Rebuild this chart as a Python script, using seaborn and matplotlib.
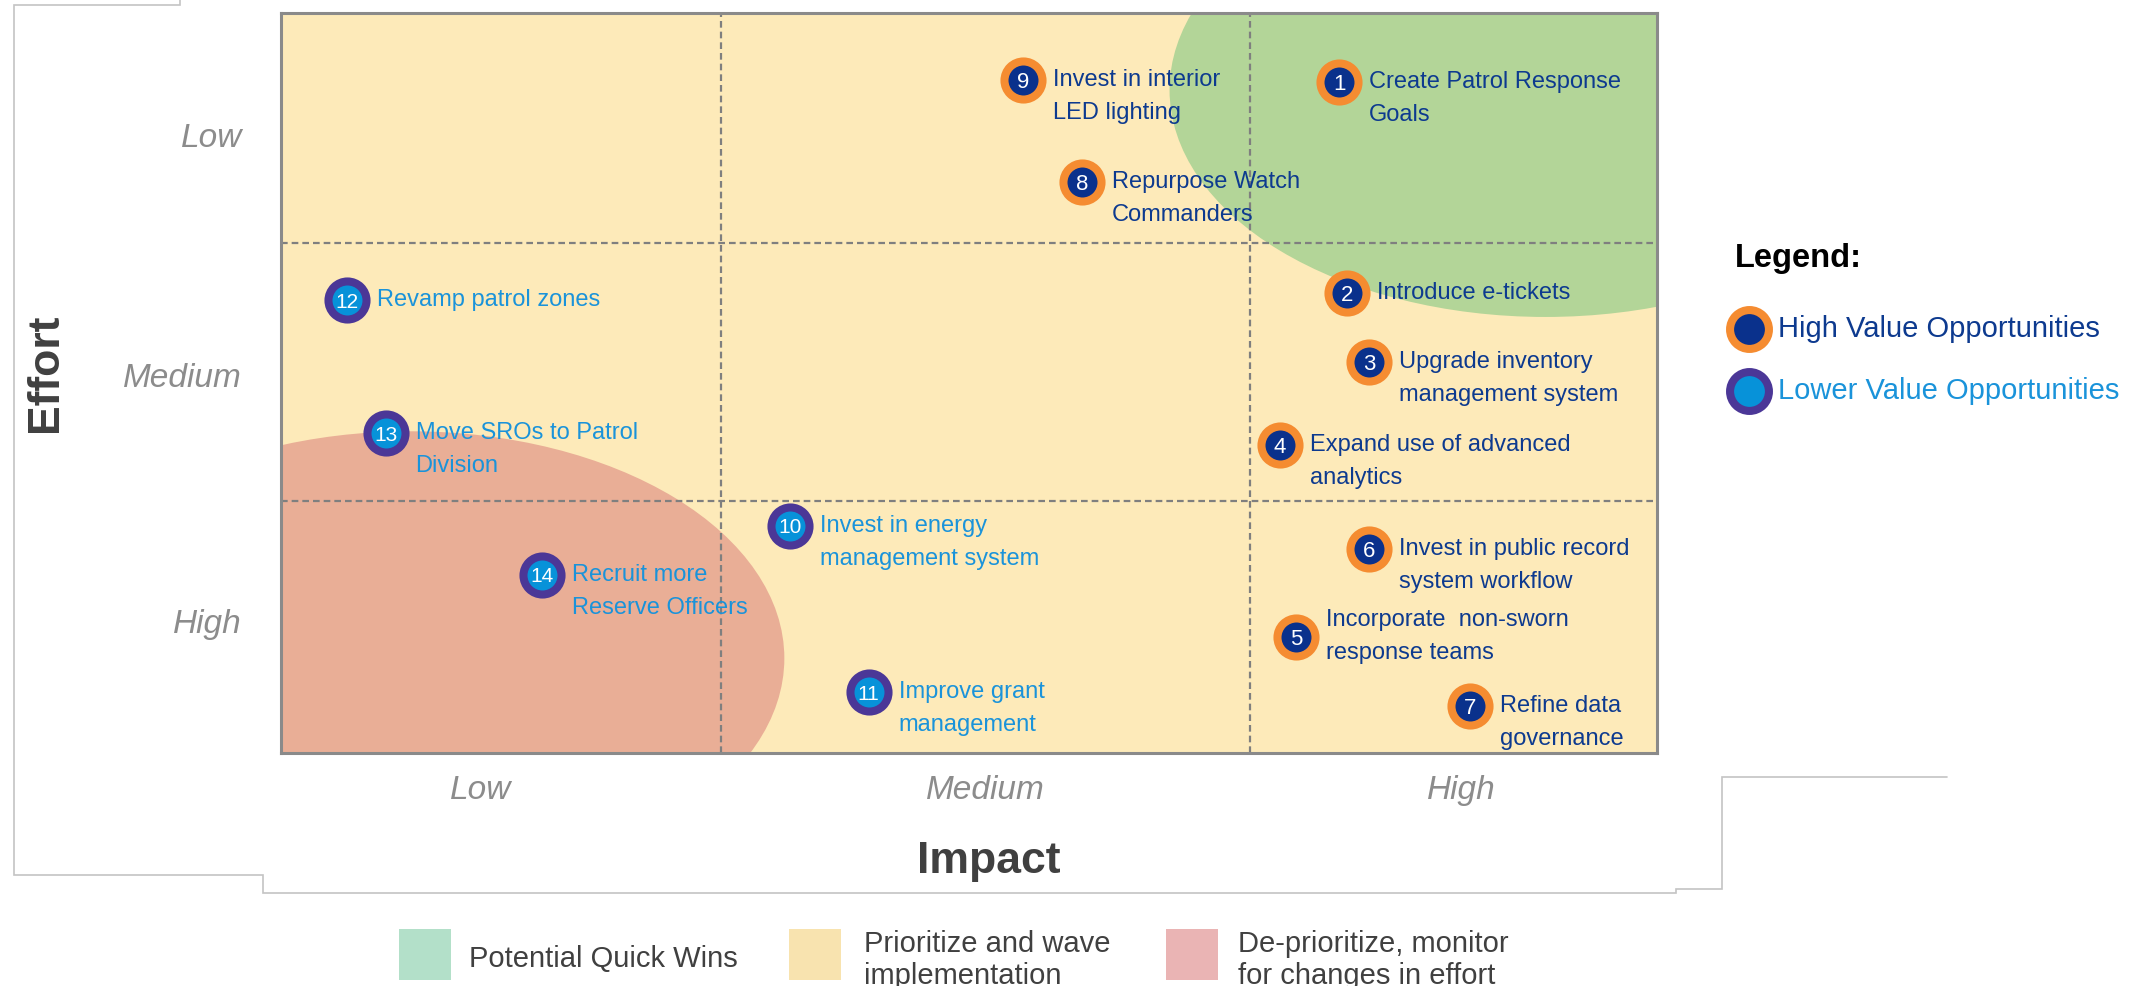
import matplotlib
matplotlib.use("Agg")
import matplotlib.pyplot as plt
from matplotlib.patches import Ellipse, Rectangle
import seaborn as sns
import pandas as pd

# ---------------- data ----------------
ids = [1, 2, 3, 4, 5, 6, 7, 8, 9, 10, 11, 12, 13, 14]
labels = [
    "Create Patrol Response\nGoals",
    "Introduce e-tickets",
    "Upgrade inventory\nmanagement system",
    "Expand use of advanced\nanalytics",
    "Incorporate  non-sworn\nresponse teams",
    "Invest in public record\nsystem workflow",
    "Refine data\ngovernance",
    "Repurpose Watch\nCommanders",
    "Invest in interior\nLED lighting",
    "Invest in energy\nmanagement system",
    "Improve grant\nmanagement",
    "Revamp patrol zones",
    "Move SROs to Patrol\nDivision",
    "Recruit more\nReserve Officers",
]
impact = [7.69, 7.75, 7.91, 7.26, 7.38, 7.91, 8.64, 5.82, 5.39, 3.70, 4.27, 0.48, 0.76, 1.90]
effort = [0.93, 3.79, 4.72, 5.84, 8.43, 7.24, 9.36, 2.28, 0.90, 6.93, 9.18, 3.88, 5.68, 7.59]
value_group = ["High"] * 9 + ["Lower"] * 5

impact_ticks = [1.45, 5.12, 8.58]
effort_ticks = [1.65, 4.89, 8.22]
level_labels = ["Low", "Medium", "High"]
impact_dividers = [3.20, 7.04]
effort_dividers = [3.11, 6.59]

legend_groups = ["High Value Opportunities", "Lower Value Opportunities"]
zone_labels = ["Potential Quick Wins", "Prioritize and wave\nimplementation",
               "De-prioritize, monitor\nfor changes in effort"]

# ---------------- style ----------------
sns.set_theme(style="white")
plt.rcParams["font.family"] = ["Liberation Sans", "DejaVu Sans"]

W, H = 2151, 986
fig = plt.figure(figsize=(W / 100, H / 100), dpi=100)
ax = fig.add_axes([281 / W, 1 - 753 / H, 1376 / W, 740 / H])

BG = "#FDEAB9"
GREEN = "#B3D598"
RED = "#E9AE96"
ORANGE = "#F58C31"
NAVY = "#0A318C"
PURPLE = "#4B3797"
BLUE = "#0792D9"
NAVY_TXT = "#0D3A8F"
BLUE_TXT = "#1A93DA"

ax.set_facecolor(BG)
ax.set_xlim(0, 10)
ax.set_ylim(10, 0)

# zones
ax.add_patch(Ellipse((9.19, 1.04), 5.465, 6.135, facecolor=GREEN, edgecolor="none", zorder=1))
ax.add_patch(Ellipse((0.94, 8.72), 5.436, 6.135, facecolor=RED, edgecolor="none", zorder=1))

# dashed dividers
for xv in impact_dividers:
    ax.axvline(xv, color="#7F7F7F", lw=1.6, ls=(0, (3, 1.8)), zorder=2)
for yv in effort_dividers:
    ax.axhline(yv, color="#7F7F7F", lw=1.6, ls=(0, (3, 1.8)), zorder=2)

df = pd.DataFrame({"id": ids, "label": labels, "impact": impact,
                   "effort": effort, "group": value_group})

styles = {"High": (NAVY, ORANGE, NAVY_TXT), "Lower": (BLUE, PURPLE, BLUE_TXT)}
for grp, (face, edge, tcol) in styles.items():
    sub = df[df["group"] == grp]
    sns.scatterplot(data=sub, x="impact", y="effort", s=27.4 ** 2, color=face,
                    edgecolor=edge, linewidth=5.8, ax=ax, zorder=3, legend=False)
    for _, r in sub.iterrows():
        ax.annotate(str(r["id"]), (r["impact"], r["effort"]), ha="center",
                    va="center_baseline", color="white",
                    fontsize=16 if r["id"] < 10 else 15, zorder=4)
        lines = r["label"].split("\n")
        start = (len(lines) - 1) * 23.8 / 2 if r["id"] == 5 else 0
        for i, ln in enumerate(lines):
            ax.annotate(ln, (r["impact"], r["effort"]), xytext=(21.6, start - i * 23.8),
                        textcoords="offset points", ha="left", va="center",
                        color=tcol, fontsize=17, zorder=4)

ax.set_xticks(impact_ticks)
ax.set_xticklabels(level_labels, fontstyle="italic", fontsize=24, color="#8C8C8C")
ax.set_yticks(effort_ticks)
ax.set_yticklabels(level_labels, fontstyle="italic", fontsize=24, color="#8C8C8C")
ax.tick_params(axis="x", length=0, pad=16)
ax.tick_params(axis="y", length=0, pad=28)

ax.set_xlabel("Impact", fontsize=32, fontweight="bold", color="#404040")
ax.set_ylabel("Effort", fontsize=32, fontweight="bold", color="#404040")
ax.xaxis.set_label_coords(0.514, -0.147)
ax.xaxis.label.set_va("center")
ax.yaxis.set_label_coords(-0.171, 0.514)
ax.yaxis.label.set_va("center")

for sp in ax.spines.values():
    sp.set_color("#8A8A8A")
    sp.set_linewidth(2.2)
    sp.set_visible(True)

# ---------------- overlay (legends, frame) ----------------
ov = fig.add_axes([0, 0, 1, 1], facecolor="none")
ov.set_xlim(0, W)
ov.set_ylim(H, 0)
ov.axis("off")

# frame lines
frame_col = "#C4C4C4"
segs = [
    [(180, 0), (180, 5), (14, 5), (14, 875), (263, 875), (263, 893), (1676, 893),
     (1676, 889), (1722, 889), (1722, 777), (1947, 777)],
]
for s in segs:
    xs, ys = zip(*s)
    ov.plot(xs, ys, color=frame_col, lw=1.2, solid_joinstyle="miter")

# right legend
ov.text(1735, 258, "Legend:", fontsize=23.5, fontweight="bold", color="black",
        ha="left", va="center")
leg_y = [329, 391]
for (grp, (face, edge, tcol)), name, yy in zip(styles.items(), legend_groups, leg_y):
    ov.scatter([1749], [yy], s=28 ** 2, color=face, edgecolor=edge, linewidth=5.8)
    ov.text(1778, yy, name, fontsize=21, color=tcol, ha="left", va="center")

# bottom legend
sw_cols = ["#B3E0C9", "#F8E3AF", "#EAB4B4"]
sw_x = [399, 789, 1166]
tx_x = [469, 864, 1238]
for col, sx, tx, lab in zip(sw_cols, sw_x, tx_x, zone_labels):
    ov.add_patch(Rectangle((sx, 929), 52, 51, facecolor=col, edgecolor="none"))
    lines = lab.split("\n")
    if len(lines) == 1:
        ov.text(tx, 959, lines[0], fontsize=21, color="#404040", ha="left", va="center")
    else:
        for ln, yy in zip(lines, [944, 976]):
            ov.text(tx, yy, ln, fontsize=21, color="#404040", ha="left", va="center")

fig.savefig("out.png", dpi=100, facecolor="white")
